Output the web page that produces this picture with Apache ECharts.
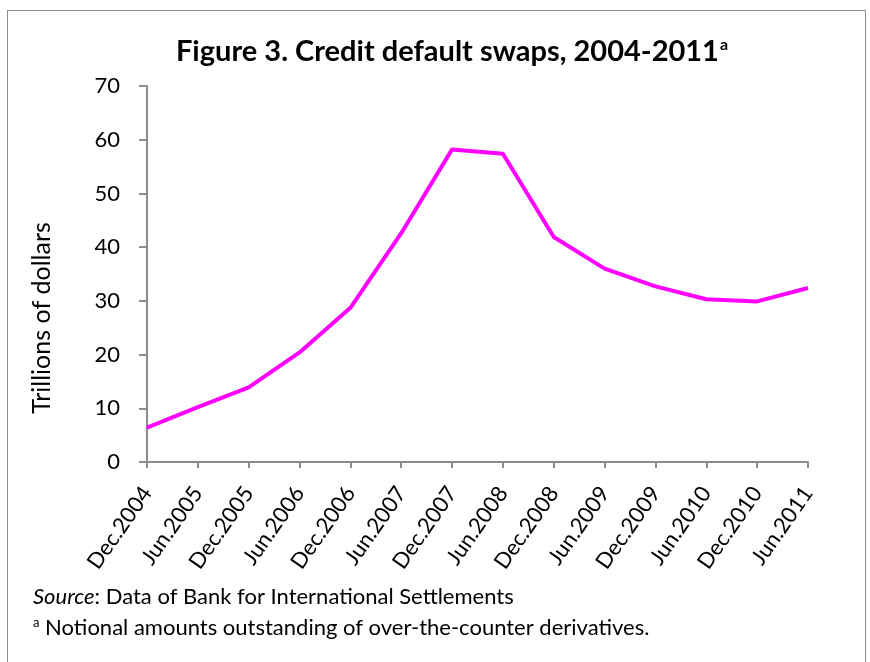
<!DOCTYPE html>
<html>
<head>
<meta charset="utf-8">
<script src="https://cdn.jsdelivr.net/npm/echarts@6/dist/echarts.min.js"></script>
<style>
  html, body { margin: 0; padding: 0; background: #fff; }
  #frame { position: absolute; left: 7px; top: 10px; width: 859px; height: 660px; border: 1px solid #8c8c8c; box-sizing: border-box; }
  #chart { position: absolute; left: 0; top: 0; width: 870px; height: 662px; }
</style>
</head>
<body>
<div id="frame"></div>
<div id="chart"></div>
<script>
// periods (semi-annual)
const periods = ['Dec.2004', 'Jun.2005', 'Dec.2005', 'Jun.2006', 'Dec.2006', 'Jun.2007', 'Dec.2007',
    'Jun.2008', 'Dec.2008', 'Jun.2009', 'Dec.2009', 'Jun.2010', 'Dec.2010', 'Jun.2011'];
// notional amounts, trillions of dollars
const cdsValues = [6.4, 10.2, 13.9, 20.4, 28.7, 42.6, 58.2, 57.4, 41.9, 36.0, 32.7, 30.3, 29.9, 32.4];

const fontFamily = 'Lato, "Open Sans", sans-serif';

const chart = echarts.init(document.getElementById('chart'));

const option = {
    animation: false,
    title: {
        text: '{t|Figure 3. Credit default swaps, 2004-2011}{s|a}',
        left: 447,
        textAlign: 'center',
        top: 32,
        textStyle: {
            rich: {
                t: { fontFamily: fontFamily, fontWeight: 'bold', fontSize: 29, color: '#000' },
                s: { fontFamily: fontFamily, fontWeight: 'bold', fontSize: 16, color: '#000', verticalAlign: 'top', padding: [0, 0, 12, 1] }
            }
        }
    },
    grid: {
        left: 147,
        right: 62,
        top: 86,
        bottom: 200
    },
    xAxis: {
        type: 'category',
        data: periods,
        boundaryGap: false,
        axisLine: { lineStyle: { color: '#8c8c8c', width: 2 } },
        axisTick: { alignWithLabel: true, length: 6, lineStyle: { color: '#8c8c8c', width: 2 } },
        axisLabel: {
            rotate: 55,
            interval: 0,
            fontFamily: fontFamily,
            fontSize: 22,
            color: '#000',
            margin: 27
        }
    },
    yAxis: {
        type: 'value',
        min: 0,
        max: 70,
        interval: 10,
        axisLine: { show: true, lineStyle: { color: '#8c8c8c', width: 2 } },
        axisTick: { show: true, length: 8, lineStyle: { color: '#8c8c8c', width: 2 } },
        splitLine: { show: false },
        axisLabel: {
            fontFamily: fontFamily,
            fontSize: 22,
            color: '#000',
            margin: 27
        }
    },
    series: [{
        type: 'line',
        data: cdsValues,
        symbol: 'none',
        lineStyle: { color: '#ff00ff', width: 4 }
    }],
    graphic: [
        {
            // y axis title, sits lower than the plot's middle in the original
            type: 'text',
            x: 42,
            y: 318,
            rotation: Math.PI / 2,
            style: {
                text: 'Trillions of dollars',
                fontFamily: fontFamily,
                fontSize: 25,
                fill: '#000',
                align: 'center',
                verticalAlign: 'middle'
            }
        },
        {
            type: 'text',
            left: 33,
            top: 586,
            style: {
                text: '{i|Source}: Data of Bank for International Settlements',
                fontFamily: fontFamily,
                fontSize: 22,
                fill: '#000',
                rich: {
                    i: { fontFamily: fontFamily, fontSize: 22, fontStyle: 'italic', fill: '#000' }
                }
            }
        },
        {
            type: 'text',
            left: 33,
            top: 616,
            style: {
                text: '{s|a} Notional amounts outstanding of over-the-counter derivatives.',
                fontFamily: fontFamily,
                fontSize: 22,
                fill: '#000',
                rich: {
                    s: { fontFamily: fontFamily, fontSize: 13, fill: '#000', verticalAlign: 'top', padding: [0, 0, 10, 0] }
                }
            }
        }
    ]
};

chart.setOption(option);
</script>
</body>
</html>
